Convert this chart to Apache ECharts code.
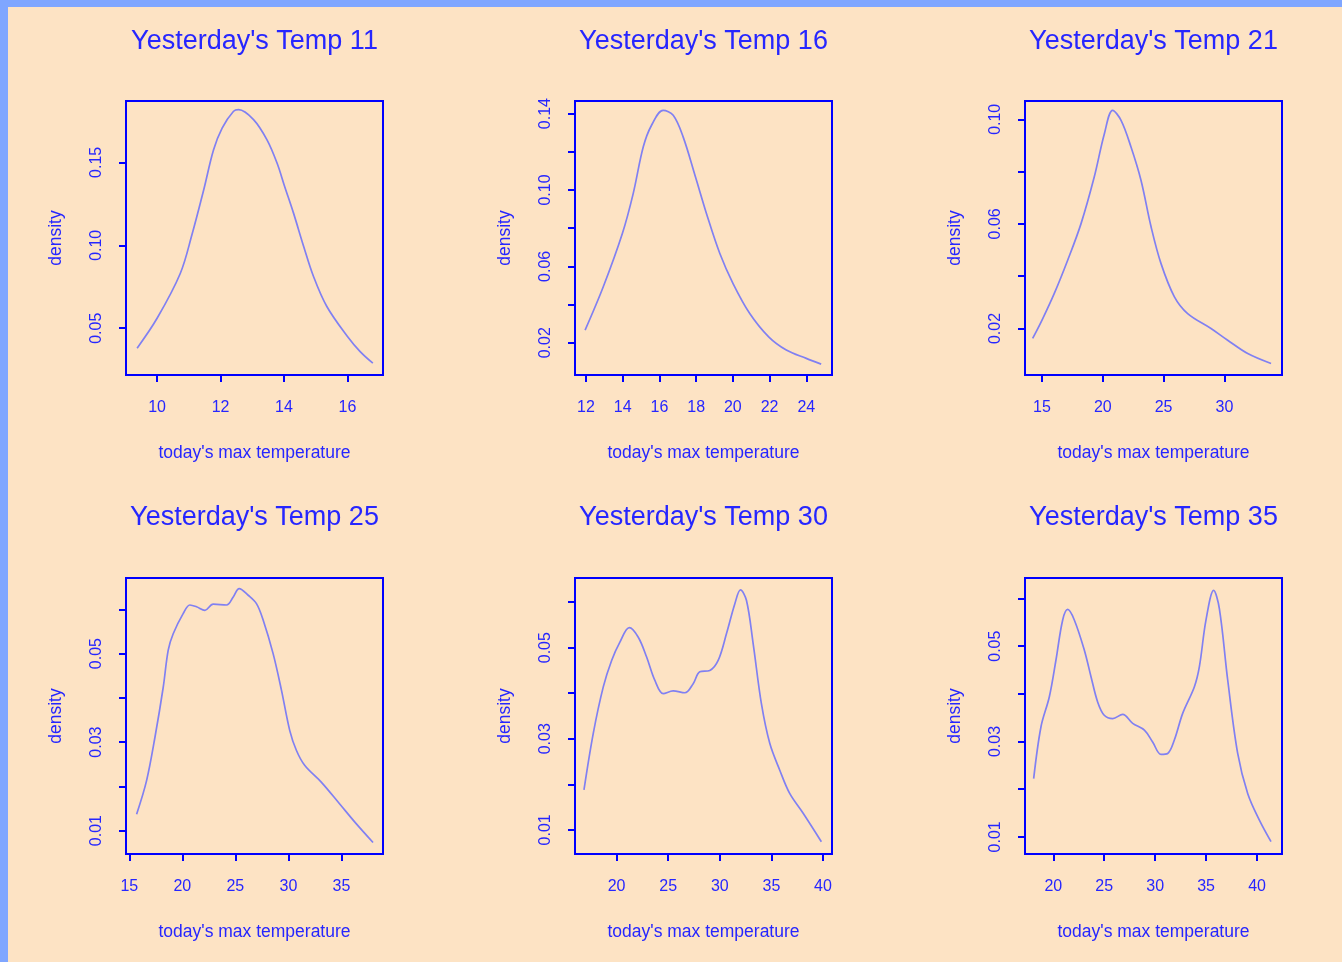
<!DOCTYPE html>
<html>
<head>
<meta charset="utf-8">
<title>Density of today's max temperature by yesterday's temperature</title>
<script src="https://cdn.jsdelivr.net/npm/echarts@6/dist/echarts.min.js"></script>
<style>
  html, body { margin: 0; padding: 0; width: 1342px; height: 962px; overflow: hidden; background: #7fa6ff; }
  #chart { position: absolute; left: 8px; top: 7px; width: 1334px; height: 955px; }
</style>
</head>
<body>
<div id="chart"></div>
<script>
// Panel titles
const titles = [
  "Yesterday's Temp 11", "Yesterday's Temp 16", "Yesterday's Temp 21",
  "Yesterday's Temp 25", "Yesterday's Temp 30", "Yesterday's Temp 35"
];

// Density estimates: today's max temperature (x) and density (y)
const temp11X = [9.37, 10.0, 10.73, 11.1, 11.47, 11.78, 12.05, 12.41, 12.57, 13.04, 13.46, 13.78, 14.02, 14.3, 14.62, 14.93, 15.35, 16.0, 16.4, 16.8];
const temp11Y = [0.038, 0.056, 0.083, 0.1065, 0.1335, 0.1576, 0.1707, 0.1808, 0.1818, 0.1758, 0.1637, 0.1496, 0.1355, 0.1194, 0.0993, 0.0812, 0.0631, 0.045, 0.0359, 0.0289];

const temp16X = [11.95, 12.94, 13.98, 14.57, 15.12, 15.57, 16.2, 16.75, 17.29, 17.96, 18.56, 19.29, 20.01, 20.92, 21.95, 22.91, 24.0, 24.81];
const temp16Y = [0.0266, 0.0493, 0.0772, 0.0981, 0.1226, 0.1339, 0.1417, 0.1391, 0.1278, 0.1069, 0.0877, 0.0667, 0.051, 0.0353, 0.0231, 0.0162, 0.0118, 0.0088];

const temp21X = [14.23, 15.0, 16.01, 17.11, 18.21, 19.3, 20.13, 20.81, 21.5, 22.32, 23.14, 23.97, 24.79, 25.89, 26.98, 28.9, 30.27, 31.92, 33.84];
const temp21Y = [0.0162, 0.0232, 0.0334, 0.0461, 0.0601, 0.078, 0.0945, 0.1034, 0.0996, 0.0894, 0.0767, 0.0589, 0.0448, 0.0321, 0.0257, 0.02, 0.0155, 0.0104, 0.0066];

const temp25X = [15.69, 16.63, 17.42, 18.2, 18.67, 19.14, 20.09, 20.71, 21.34, 22.13, 22.91, 24.17, 24.8, 25.36, 26.21, 26.99, 27.62, 28.56, 29.35, 30.13, 30.76, 31.55, 33.12, 34.84, 36.41, 37.98];
const temp25Y = [0.0137, 0.0213, 0.0311, 0.0424, 0.0508, 0.0545, 0.0591, 0.061, 0.0606, 0.0598, 0.0612, 0.061, 0.0628, 0.0647, 0.0632, 0.0613, 0.0576, 0.05, 0.0417, 0.0326, 0.0281, 0.0247, 0.0209, 0.016, 0.0115, 0.0073];

const temp30X = [16.84, 17.74, 18.71, 19.52, 20.32, 21.23, 22.1, 22.9, 23.71, 24.52, 25.48, 26.61, 27.42, 28.06, 29.03, 29.84, 30.65, 31.45, 32.0, 32.58, 33.23, 34.03, 34.84, 35.81, 36.77, 38.06, 39.84];
const temp30Y = [0.0188, 0.0312, 0.0414, 0.0472, 0.0512, 0.0544, 0.0523, 0.048, 0.0428, 0.0399, 0.0405, 0.0401, 0.0421, 0.0447, 0.045, 0.0472, 0.0531, 0.0596, 0.0627, 0.0604, 0.0509, 0.0377, 0.029, 0.0231, 0.018, 0.0137, 0.0074];

const temp35X = [18.07, 18.79, 19.61, 20.26, 20.92, 21.41, 22.06, 23.04, 23.7, 24.35, 25.0, 25.83, 26.81, 27.79, 28.94, 29.75, 30.57, 31.23, 31.88, 32.7, 33.85, 34.34, 34.99, 35.74, 36.3, 37.12, 38.1, 39.08, 40.23, 41.37];
const temp35Y = [0.0222, 0.0331, 0.0394, 0.0471, 0.0555, 0.0577, 0.0555, 0.0492, 0.0436, 0.0383, 0.0355, 0.0348, 0.0357, 0.0338, 0.0324, 0.0299, 0.0273, 0.0275, 0.0303, 0.0359, 0.0415, 0.0457, 0.0555, 0.0617, 0.0579, 0.0429, 0.0275, 0.0191, 0.0135, 0.009];

// Tick marks and labelled ticks for each panel
const xTicks11 = [10, 12, 14, 16];
const yTicks11 = [0.05, 0.10, 0.15];
const yLabels11 = [0.05, 0.10, 0.15];

const xTicks16 = [12, 14, 16, 18, 20, 22, 24];
const yTicks16 = [0.02, 0.04, 0.06, 0.08, 0.10, 0.12, 0.14];
const yLabels16 = [0.02, 0.06, 0.10, 0.14];

const xTicks21 = [15, 20, 25, 30];
const yTicks21 = [0.02, 0.04, 0.06, 0.08, 0.10];
const yLabels21 = [0.02, 0.06, 0.10];

const xTicks25 = [15, 20, 25, 30, 35];
const yTicks25 = [0.01, 0.02, 0.03, 0.04, 0.05, 0.06];
const yLabels25 = [0.01, 0.03, 0.05];

const xTicks30 = [20, 25, 30, 35, 40];
const yTicks30 = [0.01, 0.02, 0.03, 0.04, 0.05, 0.06];
const yLabels30 = [0.01, 0.03, 0.05];

const xTicks35 = [20, 25, 30, 35, 40];
const yTicks35 = [0.01, 0.02, 0.03, 0.04, 0.05, 0.06];
const yLabels35 = [0.01, 0.03, 0.05];

const xLabel = "today's max temperature";
const yLabel = "density";

// Panel setup: data, ticks and the plotting extents (slightly padded around the data)
const panels = [
  { xs: temp11X, ys: temp11Y, xt: xTicks11, yt: yTicks11, yl: yLabels11, xr: [9.02, 17.12], yr: [0.0218, 0.187] },
  { xs: temp16X, ys: temp16Y, xt: xTicks16, yt: yTicks16, yl: yLabels16, xr: [11.40, 25.40], yr: [0.0031, 0.1466] },
  { xs: temp21X, ys: temp21Y, xt: xTicks21, yt: yTicks21, yl: yLabels21, xr: [13.60, 34.74], yr: [0.0022, 0.107] },
  { xs: temp25X, ys: temp25Y, xt: xTicks25, yt: yTicks25, yl: yLabels25, xr: [14.69, 38.92], yr: [0.0047, 0.0671] },
  { xs: temp30X, ys: temp30Y, xt: xTicks30, yt: yTicks30, yl: yLabels30, xr: [15.97, 40.87], yr: [0.0047, 0.0653] },
  { xs: temp35X, ys: temp35Y, xt: xTicks35, yt: yTicks35, yl: yLabels35, xr: [17.22, 42.45], yr: [0.0064, 0.0643] }
];

const colLeft = [118, 567, 1017];
const rowTop = [94, 571];
const rowHeight = [274, 276];
const plotWidth = 257;
const titleTop = [21, 497];

const INK = '#2626ff';
const FRAME = '#0000ff';
const CURVE = '#8080f2';
const FONT = "'Liberation Sans', Arial, Helvetica, sans-serif";

const grid = [], xAxis = [], yAxis = [], series = [], title = [];

panels.forEach((p, i) => {
  const col = i % 3, row = Math.floor(i / 3);
  grid.push({
    left: colLeft[col], top: rowTop[row], width: plotWidth, height: rowHeight[row],
    show: true, borderColor: FRAME, borderWidth: 2, backgroundColor: 'transparent',
    containLabel: false
  });
  title.push({
    text: titles[i],
    left: colLeft[col] + plotWidth / 2,
    top: titleTop[row],
    textAlign: 'center',
    padding: 0,
    textStyle: { color: INK, fontSize: 27, fontWeight: 'normal', fontFamily: FONT }
  });
  xAxis.push({
    type: 'value', gridIndex: i, min: p.xr[0], max: p.xr[1],
    name: xLabel, nameLocation: 'middle', nameGap: 69,
    nameTextStyle: { color: INK, fontSize: 17.5, fontFamily: FONT },
    axisLine: { show: false },
    splitLine: { show: false },
    axisTick: { show: true, length: 7, customValues: p.xt, lineStyle: { color: FRAME, width: 2 } },
    axisLabel: { show: true, customValues: p.xt, margin: 25, color: INK, fontSize: 16, fontFamily: FONT,
                 formatter: v => String(Math.round(v)) }
  });
  yAxis.push({
    type: 'value', gridIndex: i, min: p.yr[0], max: p.yr[1],
    name: yLabel, nameLocation: 'middle', nameGap: 61, nameRotate: 90,
    nameTextStyle: { color: INK, fontSize: 17.5, fontFamily: FONT },
    axisLine: { show: false },
    splitLine: { show: false },
    axisTick: { show: true, length: 7, customValues: p.yt, lineStyle: { color: FRAME, width: 2 } },
    axisLabel: { show: true, customValues: p.yl, rotate: 90, margin: 21, color: INK, fontSize: 16, fontFamily: FONT,
                 formatter: v => v.toFixed(2) }
  });
  series.push({
    type: 'line', xAxisIndex: i, yAxisIndex: i,
    data: p.xs.map((x, k) => [x, p.ys[k]]),
    showSymbol: false, smooth: 0.35,
    lineStyle: { color: CURVE, width: 1.7 },
    silent: true
  });
});

const chart = echarts.init(document.getElementById('chart'), null, { renderer: 'canvas' });
chart.setOption({
  backgroundColor: '#fde3c4',
  animation: false,
  textStyle: { fontFamily: FONT },
  title, grid, xAxis, yAxis, series
});
</script>
</body>
</html>
